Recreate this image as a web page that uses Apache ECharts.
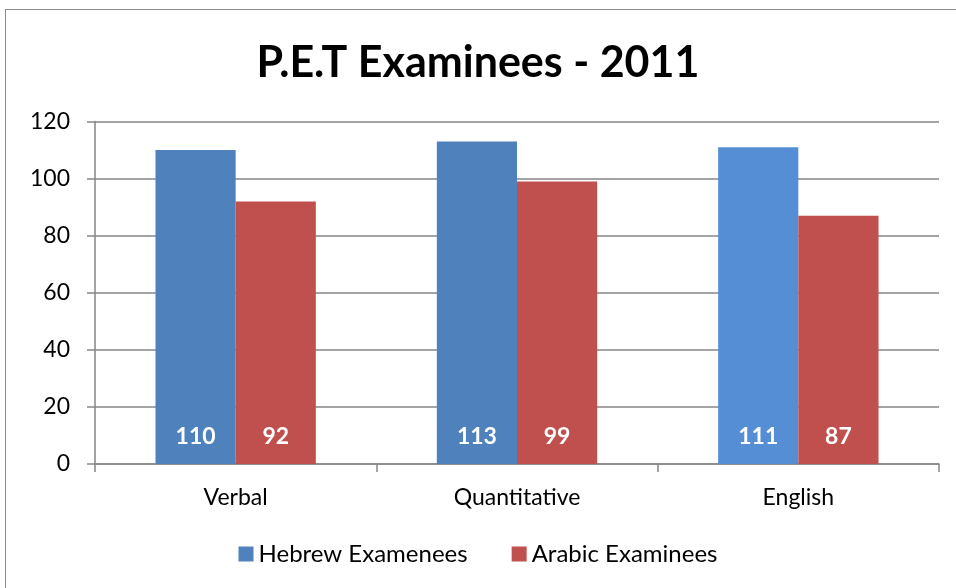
<!DOCTYPE html>
<html>
<head>
<meta charset="utf-8">
<script src="https://cdn.jsdelivr.net/npm/echarts@6/dist/echarts.min.js"></script>
<style>
html, body { margin: 0; padding: 0; background: #fff; }
#chart { width: 956px; height: 588px; position: relative; }
#frame { position: absolute; left: 5px; top: 9px; width: 960px; height: 600px; border: 1px solid #8c8c8c; pointer-events: none; }
</style>
</head>
<body>
<div id="chart"></div>
<div id="frame" style="position:absolute"></div>
<script>
// data
const categories = ['Verbal', 'Quantitative', 'English'];
const hebrew = [110, 113, 111];
const arabic = [92, 99, 87];
const yTicks = [0, 20, 40, 60, 80, 100, 120];

const font = 'Lato, "Open Sans", sans-serif';

let chart = echarts.init(document.getElementById('chart'), null, { renderer: 'canvas' });
chart.setOption({
  animation: false,
  textStyle: { fontFamily: font },
  title: {
    text: 'P.E.T Examinees - 2011',
    left: 'center',
    top: 37,
    textStyle: { color: '#000', fontSize: 43, fontWeight: 'bold', fontFamily: font }
  },
  legend: {
    bottom: 17,
    left: 'center',
    icon: 'rect',
    itemWidth: 15,
    itemHeight: 15,
    itemGap: 44,
    textStyle: { color: '#000', fontSize: 24, fontFamily: font },
    data: ['Hebrew Examenees', 'Arabic Examinees']
  },
  grid: { left: 95, right: 17, top: 121.5, bottom: 124 },
  xAxis: {
    type: 'category',
    data: categories,
    axisLine: { lineStyle: { color: '#868686', width: 1.5 } },
    axisTick: { show: true, length: 8, lineStyle: { color: '#868686', width: 1.5 } },
    axisLabel: { color: '#000', fontSize: 23, margin: 22, fontFamily: font }
  },
  yAxis: {
    type: 'value',
    min: yTicks[0],
    max: yTicks[yTicks.length - 1],
    interval: 20,
    axisLine: { show: true, lineStyle: { color: '#868686', width: 1.5 } },
    axisTick: { show: true, length: 8, lineStyle: { color: '#868686', width: 1.5 } },
    splitLine: { show: true, lineStyle: { color: '#868686', width: 1.5 } },
    axisLabel: { color: '#000', fontSize: 23, margin: 25, fontFamily: font }
  },
  series: [
    {
      name: 'Hebrew Examenees',
      type: 'bar',
      barGap: '0%',
      barCategoryGap: '43%',
      itemStyle: { color: '#4f81bd' },
      data: hebrew.map((v, i) => i === 2 ? { value: v, itemStyle: { color: '#558ed5' } } : v),
      label: {
        show: true, position: 'insideBottom', distance: 16,
        color: '#fff', fontSize: 23, fontWeight: 'bold', fontFamily: font
      }
    },
    {
      name: 'Arabic Examinees',
      type: 'bar',
      itemStyle: { color: '#c0504d' },
      data: arabic,
      label: {
        show: true, position: 'insideBottom', distance: 16,
        color: '#fff', fontSize: 23, fontWeight: 'bold', fontFamily: font
      }
    }
  ]
});
</script>
</body>
</html>
